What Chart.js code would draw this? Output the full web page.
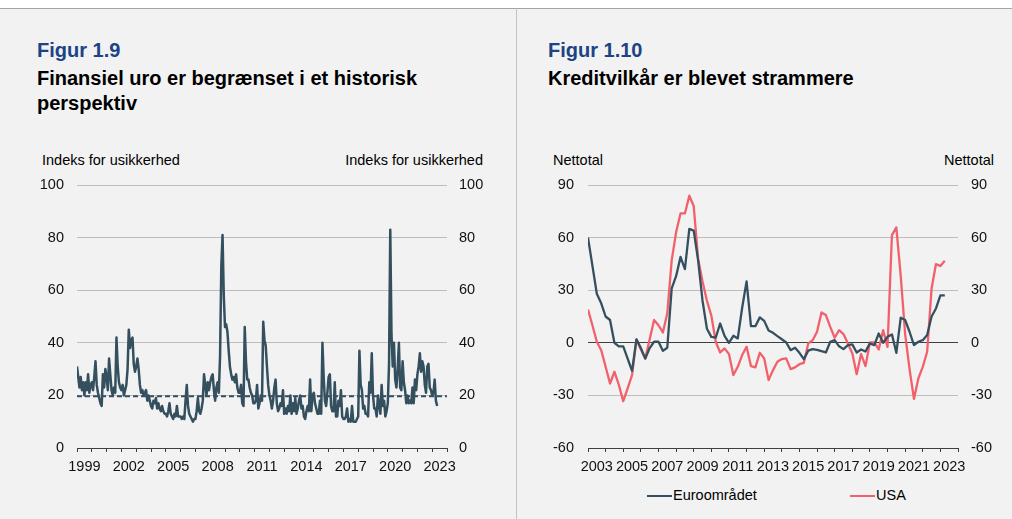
<!DOCTYPE html>
<html lang="da">
<head>
<meta charset="utf-8">
<title>Figur 1.9 og 1.10</title>
<script src="https://cdn.jsdelivr.net/npm/chart.js@4.4.1/dist/chart.umd.min.js"></script>
<style>
  html, body { margin: 0; padding: 0; }
  body {
    width: 1012px; height: 519px; position: relative; overflow: hidden;
    background: #fff;
    font-family: "Liberation Sans", Arial, sans-serif;
    color: #000;
  }
  .panel { position: absolute; top: 8px; bottom: 0; background: #f2f2f2; border-top: 1px solid #a5a5a5; }
  #panel1 { left: 0; width: 516px; border-right: 1px solid #c3c3c3; }
  #panel2 { left: 517px; right: 0; }
  .fig, .title { position: absolute; font-size: 20px; line-height: 25px; font-weight: bold; white-space: nowrap; }
  .fig { color: #1b4386; }
  .unit { position: absolute; top: 152px; font-size: 14.5px; line-height: 17px; white-space: nowrap; }
  canvas { position: absolute; }
  .legend { position: absolute; top: 487px; font-size: 14.5px; line-height: 17px; white-space: nowrap; }
  .legend i { display: inline-block; width: 25px; height: 2.5px; vertical-align: middle; margin-right: 1px; }
</style>
</head>
<body>
<div class="panel" id="panel1"></div>
<div class="panel" id="panel2"></div>

<div class="fig" style="left:37px;top:38px">Figur 1.9</div>
<div class="title" style="left:37px;top:66px">Finansiel uro er begrænset i et historisk<br>perspektiv</div>
<div class="unit" style="left:42px">Indeks for usikkerhed</div>
<div class="unit" style="left:283px;width:200px;text-align:right">Indeks for usikkerhed</div>
<canvas id="chart1" width="517" height="310" style="left:0;top:170px"></canvas>

<div class="fig" style="left:548px;top:38px">Figur 1.10</div>
<div class="title" style="left:548px;top:66px">Kreditvilkår er blevet strammere</div>
<div class="unit" style="left:553px">Nettotal</div>
<div class="unit" style="left:794px;width:200px;text-align:right">Nettotal</div>
<canvas id="chart2" width="493" height="310" style="left:519px;top:170px"></canvas>
<div class="legend" style="left:647px"><i style="background:#34505f"></i>Euroområdet</div>
<div class="legend" style="left:850px"><i style="background:#f2616b"></i>USA</div>

<script>
// ── Figur 1.9: usikkerhedsindeks, månedlige obs. fra jan. 1999 ──
const vixStartYear = 1999;
const vixValues = [
  31, 27, 23, 27, 22, 25, 20, 25, 22, 28, 21, 24,   // 1999
  25, 22, 27, 33, 24, 21, 19, 17, 16, 28, 23, 30,   // 2000
  27, 22, 34, 28, 22, 20, 23, 21, 42, 31, 25, 23,   // 2001
  22, 24, 20, 22, 24, 30, 45, 38, 41, 42, 32, 29,   // 2002
  31, 34, 30, 24, 21, 22, 20, 21, 22, 18, 20, 18,   // 2003
  16, 15, 18, 17, 19, 15, 17, 15, 14, 16, 14, 13,   // 2004
  13, 12, 14, 17, 13, 12, 11, 13, 12, 16, 12, 12,   // 2005
  12, 11, 12, 11, 18, 24, 16, 13, 12, 11, 10, 11,   // 2006
  11, 14, 19, 14, 13, 15, 18, 28, 24, 20, 25, 22,   // 2007
  25, 27, 28, 22, 18, 23, 25, 21, 35, 69, 81, 58,   // 2008
  46, 47, 44, 37, 31, 28, 26, 27, 25, 28, 23, 21,   // 2009
  21, 24, 17, 16, 46, 33, 26, 26, 23, 21, 20, 17,   // 2010
  17, 18, 24, 15, 17, 20, 18, 48, 41, 39, 31, 24,   // 2011
  20, 18, 15, 18, 23, 26, 17, 14, 15, 17, 16, 22,   // 2012
  13, 15, 13, 16, 14, 20, 13, 17, 14, 19, 13, 15,   // 2013
  18, 20, 15, 16, 12, 11, 14, 16, 14, 26, 14, 20,   // 2014
  21, 17, 15, 13, 13, 18, 13, 40, 27, 18, 16, 21,   // 2015
  27, 28, 16, 14, 14, 25, 12, 12, 18, 16, 22, 12,   // 2016
  11, 11, 12, 15, 10, 11, 10, 16, 10, 10, 10, 11,   // 2017
  12, 37, 24, 22, 15, 16, 13, 13, 12, 25, 21, 36,   // 2018
  20, 15, 15, 12, 20, 16, 13, 24, 16, 18, 12, 14,   // 2019
  17, 32, 83, 43, 31, 40, 26, 23, 30, 40, 23, 22,   // 2020
  33, 25, 22, 17, 20, 17, 18, 17, 23, 17, 26, 22,   // 2021
  28, 31, 36, 29, 33, 31, 24, 21, 31, 32, 23, 22,   // 2022
  20, 21, 26, 18, 16                                // 2023
];
const vixAverage = 19.7;
const vixYTicks = [0, 20, 40, 60, 80, 100];
const vixYearLabels = [1999, 2002, 2005, 2008, 2011, 2014, 2017, 2020, 2023];

// ── Figur 1.10: kreditvilkår, kvartalsvis fra 2003K1 ──
const kvStartYear = 2003;
const euroomraadet = [
  60, 44, 28, 22.5, 15, 13, 0, -2, -2, -9,
  -16, 2, -3, -9, -3, 0.6, 0.6, -4.6, -2.8, 31,
  38, 49, 42, 65, 64, 47, 24, 8, 3.4, 3,
  11, 4, 0, 4, 2.5, 20, 35, 9.5, 9.5, 14.5,
  12.5, 7, 5.7, 3.8, 2, 0.2, -4.2, -2.8, -5.7, -9.3,
  -4.5, -3.6, -4, -4.8, -5.5, 0.6, 1.5, -2, -3.6, -1.3,
  -0.9, -5.5, -3.8, -5, -0.3, -1.3, 5.3, 0, 3.4, 4.8,
  -5.7, 14.3, 13, 6.3, -1.3, 0.6, 1.5, 4.4, 15, 19.6,
  27, 27
];
const usa = [
  19, 10, 0.6, -4.2, -13.7, -23.2, -16.5, -24, -33.3, -26,
  -18.4, 1.9, -3.8, -8.9, 2, 13, 10, 5.9, 16.8, 47,
  63, 73.8, 73.8, 83.9, 78, 48, 35, 24, 15.5, 0.6,
  -5.5, -3.2, -6.4, -18.4, -13.7, -7, -2.3, -13.3, -14, -5.7,
  -8.9, -21.3, -15.6, -10.8, -9.3, -8.9, -15, -14, -12.2, -11.4,
  -0.4, 1.5, 6.3, 17.3, 15.8, 9.1, 2.9, 7.2, 5, -0.4,
  -6, -17.9, -6.4, -13.3, 0.2, 0.2, -3.8, 7.2, -2.3, 61.4,
  65.8, 38, 5, -15, -32, -20.3, -13.7, -5.1, 31, 44.9,
  43.8, 46.8
];
const kvYTicks = [-60, -30, 0, 30, 60, 90];
const kvYearLabels = [2003, 2005, 2007, 2009, 2011, 2013, 2015, 2017, 2019, 2021, 2023];

const FONT = { family: "'Liberation Sans', Arial, sans-serif", size: 14.5 };
const INK = "#111";
const AXIS = "#3f3f3f";
const GRID = "#bdbdbd";
const SLATE = "#34505f";
const RED = "#f2616b";

// year ticks every half year: marks on whole years, labels in the middle
function xScale(min, max, labels) {
  return {
    type: "linear", min, max,
    afterBuildTicks: a => {
      const t = [];
      for (let v = min; v <= max; v += 0.5) t.push({ value: v });
      a.ticks = t;
    },
    afterFit: a => {
      a.height = 32;
      a.paddingLeft = 0; a.paddingRight = 0;
    },
    ticks: {
      autoSkip: false, maxRotation: 0, minRotation: 0, padding: 6,
      color: INK, font: FONT,
      callback: v => (v % 1 === 0.5 && labels.includes(Math.floor(v))) ? String(Math.floor(v)) : ""
    },
    grid: {
      drawOnChartArea: false, drawTicks: true, tickLength: 4,
      color: c => (c.tick && c.tick.value % 1 === 0) ? AXIS : "rgba(0,0,0,0)"
    },
    border: { display: true, color: AXIS, width: 1 }
  };
}

function yScale(position, ticks, width, pad, onArea) {
  return {
    type: "linear", position,
    min: ticks[0], max: ticks[ticks.length - 1],
    afterBuildTicks: a => { a.ticks = ticks.map(v => ({ value: v })); },
    afterFit: a => {
      a.width = width;
      a.paddingTop = 0; a.paddingBottom = 0;
    },
    ticks: { color: INK, font: FONT, padding: pad, callback: v => String(v) },
    grid: onArea
      ? { drawTicks: false, color: c => (c.tick.value === 0 || c.tick.value === ticks[0]) ? AXIS : GRID }
      : { drawOnChartArea: false, drawTicks: false },
    border: { display: false }
  };
}

const baseOptions = {
  responsive: false,
  animation: false,
  devicePixelRatio: 1,
  layout: { padding: { top: 15, left: 0, right: 0, bottom: 0 } },
  plugins: { legend: { display: false }, tooltip: { enabled: false } },
  elements: {
    point: { radius: 0 },
    line: { tension: 0, borderJoinStyle: "round", borderCapStyle: "butt" }
  }
};

// Figur 1.9
new Chart(document.getElementById("chart1"), {
  type: "line",
  data: {
    datasets: [
      {
        data: vixValues.map((v, i) => ({ x: vixStartYear + i / 12, y: v })),
        borderColor: SLATE, borderWidth: 2.5, yAxisID: "y"
      },
      {
        data: [{ x: 1999, y: vixAverage }, { x: 2024, y: vixAverage }],
        borderColor: SLATE, borderWidth: 2, borderDash: [5, 3], yAxisID: "y"
      }
    ]
  },
  options: {
    ...baseOptions,
    scales: {
      x: xScale(1999, 2024, vixYearLabels),
      y: yScale("left", vixYTicks, 77, 13, true),
      y2: yScale("right", vixYTicks, 70, 12, false)
    }
  }
});

// Figur 1.10
new Chart(document.getElementById("chart2"), {
  type: "line",
  data: {
    datasets: [
      {
        label: "Euroområdet",
        data: euroomraadet.map((v, i) => ({ x: kvStartYear + i / 4, y: v })),
        borderColor: SLATE, borderWidth: 2.3, yAxisID: "y"
      },
      {
        label: "USA",
        data: usa.map((v, i) => ({ x: kvStartYear + i / 4, y: v })),
        borderColor: RED, borderWidth: 2.3, yAxisID: "y"
      }
    ]
  },
  options: {
    ...baseOptions,
    scales: {
      x: xScale(2003, 2024, kvYearLabels),
      y: yScale("left", kvYTicks, 69, 14, true),
      y2: yScale("right", kvYTicks, 54, 13, false)
    }
  }
});
</script>
</body>
</html>
